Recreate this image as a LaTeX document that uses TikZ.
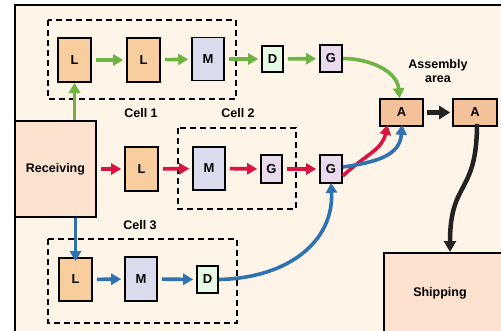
\documentclass[tikz,border=0pt]{standalone}
\usepackage{fontspec}
\setmainfont{Liberation Sans}
\usetikzlibrary{arrows.meta}
\definecolor{bgc}{HTML}{FEF4E8}
\definecolor{lcol}{HTML}{F9CE9E}
\definecolor{mcol}{HTML}{DADCEE}
\definecolor{dcol}{HTML}{E6FBE4}
\definecolor{gcol}{HTML}{E9DAEE}
\definecolor{acol}{HTML}{F4C29A}
\definecolor{rcol}{HTML}{FDE2D0}
\definecolor{grn}{HTML}{6FB443}
\definecolor{red1}{HTML}{DA1440}
\definecolor{blu}{HTML}{2F72B3}
\definecolor{blk}{HTML}{222222}
\tikzset{
  box/.style={draw=black, line width=1.6pt, minimum width=#1, inner sep=0pt, font=\fontsize{13}{13}\selectfont\bfseries},
  cellbox/.style={draw=black, line width=1.6pt, dash pattern=on 6pt off 4pt},
  lbl/.style={font=\fontsize{12.5}{14.5}\selectfont\bfseries, align=center},
  flow/.style={line width=3.6pt, -{Triangle[length=10pt,width=11pt]}},
  gap/.style={shorten <=4pt, shorten >=3pt},
}
\begin{document}
\begin{tikzpicture}[x=1pt,y=-1pt]
\useasboundingbox (0,0) rectangle (501,330);
\fill[white] (0,0) rectangle (501,330);
\fill[bgc] (15,5) rectangle (510,340);
\draw[line width=2pt] (15,340) -- (15,5) -- (510,5);
% cells
\draw[cellbox] (48,20) rectangle (236,99);
\draw[cellbox] (178,128) rectangle (296,209);
\draw[cellbox] (48,239) rectangle (237,323);
% labels
\node[lbl] (c1) at (141,113) {Cell 1};
\node[lbl] (c2) at (238,113) {Cell 2};
\node[lbl] (c3) at (140,225) {Cell 3};
\node[lbl] (asm) at (438,71) {Assembly\\area};
% nodes row 1
\node[box=33pt, minimum height=44pt, fill=lcol] (l1) at (74.5,60) {L};
\node[box=33pt, minimum height=44pt, fill=lcol] (l2) at (143.5,60) {L};
\node[box=32pt, minimum height=43pt, fill=mcol] (m1) at (208,59) {M};
\node[box=21pt, minimum height=26pt, fill=dcol] (d1) at (272.5,59) {D};
\node[box=22pt, minimum height=27pt, fill=gcol] (g1) at (331,58.5) {G};
\node[box=43pt, minimum height=27pt, fill=acol] (a1) at (401.5,112.5) {A};
\node[box=44pt, minimum height=27pt, fill=acol] (a2) at (475,112.5) {A};
% receiving and row 2
\node[box=81pt, minimum height=96pt, fill=rcol, font=\fontsize{12.5}{13}\selectfont\bfseries] (rec) at (55.5,169) {Receiving};
\node[box=33pt, minimum height=44pt, fill=lcol] (l3) at (141.5,169) {L};
\node[box=32pt, minimum height=43pt, fill=mcol] (m2) at (209,168.5) {M};
\node[box=21pt, minimum height=28pt, fill=gcol] (g2) at (271.5,169) {G};
\node[box=22pt, minimum height=28pt, fill=gcol] (g3) at (331,169) {G};
% row 3
\node[box=33pt, minimum height=43pt, fill=lcol] (l4) at (75.5,279.5) {L};
\node[box=32pt, minimum height=44pt, fill=mcol] (m3) at (141,279) {M};
\node[box=21pt, minimum height=27pt, fill=dcol] (d2) at (207.5,279.5) {D};
% shipping
\node[box=127pt, minimum height=88pt, fill=rcol, anchor=north west] (shp) at (383,252) {};
\node[lbl] (shpt) at (440,293) {Shipping};
% green flow
\draw[flow, grn] (rec.north -| l1) -- (l1.south);
\draw[flow, grn, gap] (l1) -- (l2);
\draw[flow, grn, gap] (l2) -- (m1);
\draw[flow, grn, gap] (m1) -- (d1);
\draw[flow, grn, gap] (d1) -- (g1);
\draw[flow, grn] (g1.east) to[out=0, in=95] ([xshift=-2pt]a1.north);
% red flow
\draw[flow, red1, gap] (rec.east |- l3) -- (l3);
\draw[flow, red1, gap] (l3) -- (m2);
\draw[flow, red1, gap] (m2) -- (g2);
\draw[flow, red1, gap] (g2) -- (g3);
\draw[flow, red1] ([yshift=-7pt]g3.east) .. controls (365,155) and (382,150) .. ([xshift=-14pt,yshift=2pt]a1.south);
% blue flow
\draw[flow, blu] (rec.south -| l4) -- ([yshift=-4pt]l4.north);
\draw[flow, blu, gap] (l4) -- (m3);
\draw[flow, blu, gap] (m3) -- (d2);
\draw[flow, blu] (d2.east) .. controls (290,278) and (334,240) .. ([yshift=1pt]g3.south);
\draw[flow, blu] ([yshift=2pt]g3.east) .. controls (378,162) and (400,155) .. ([xshift=0.5pt,yshift=2pt]a1.south);
% black flow
\draw[line width=5pt, blk, -{Triangle[length=11pt,width=13pt]}, shorten <=3pt, shorten >=2pt] (a1) -- (a2);
\draw[line width=4.5pt, blk, -{Triangle[length=11pt,width=12pt]}] ([xshift=2pt,yshift=3pt]a2.south) .. controls (477,195) and (450,180) .. (shp.north -| 450,0);
\end{tikzpicture}
\end{document}
